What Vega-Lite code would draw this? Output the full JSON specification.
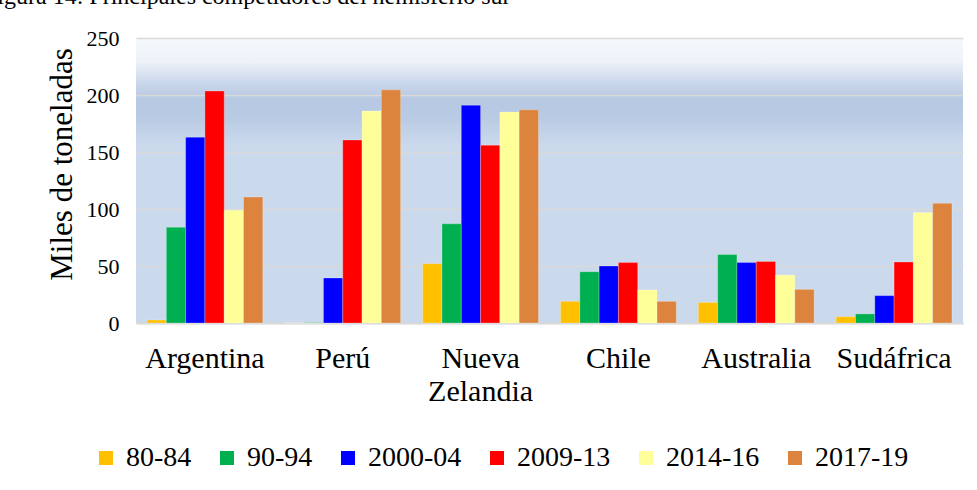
{
  "$schema": "https://vega.github.io/schema/vega-lite/v6.json",
  "autosize": "none",
  "width": 827,
  "height": 285,
  "padding": {"left": 136, "top": 38, "right": 14, "bottom": 167},
  "background": "white",
  "title": {
    "text": "Figura 14: Principales competidores del hemisferio sur",
    "anchor": "start",
    "frame": "group",
    "dx": -152,
    "offset": -1,
    "baseline": "alphabetic",
    "font": "Liberation Serif",
    "fontSize": 24,
    "fontWeight": "normal",
    "color": "#000000"
  },
  "data": {
    "values": [
      {"pais": "Argentina", "periodo": "80-84", "valor": 2.6},
      {"pais": "Argentina", "periodo": "90-94", "valor": 84},
      {"pais": "Argentina", "periodo": "2000-04", "valor": 163},
      {"pais": "Argentina", "periodo": "2009-13", "valor": 203.5},
      {"pais": "Argentina", "periodo": "2014-16", "valor": 99},
      {"pais": "Argentina", "periodo": "2017-19", "valor": 110.5},
      {"pais": "Perú", "periodo": "80-84", "valor": 0},
      {"pais": "Perú", "periodo": "90-94", "valor": 0.3},
      {"pais": "Perú", "periodo": "2000-04", "valor": 39.5},
      {"pais": "Perú", "periodo": "2009-13", "valor": 160.5},
      {"pais": "Perú", "periodo": "2014-16", "valor": 186},
      {"pais": "Perú", "periodo": "2017-19", "valor": 204.5},
      {"pais": "Nueva Zelandia", "periodo": "80-84", "valor": 52},
      {"pais": "Nueva Zelandia", "periodo": "90-94", "valor": 87},
      {"pais": "Nueva Zelandia", "periodo": "2000-04", "valor": 191},
      {"pais": "Nueva Zelandia", "periodo": "2009-13", "valor": 156},
      {"pais": "Nueva Zelandia", "periodo": "2014-16", "valor": 185},
      {"pais": "Nueva Zelandia", "periodo": "2017-19", "valor": 187},
      {"pais": "Chile", "periodo": "80-84", "valor": 19},
      {"pais": "Chile", "periodo": "90-94", "valor": 45},
      {"pais": "Chile", "periodo": "2000-04", "valor": 50},
      {"pais": "Chile", "periodo": "2009-13", "valor": 53},
      {"pais": "Chile", "periodo": "2014-16", "valor": 29},
      {"pais": "Chile", "periodo": "2017-19", "valor": 19},
      {"pais": "Australia", "periodo": "80-84", "valor": 18},
      {"pais": "Australia", "periodo": "90-94", "valor": 60},
      {"pais": "Australia", "periodo": "2000-04", "valor": 53},
      {"pais": "Australia", "periodo": "2009-13", "valor": 54},
      {"pais": "Australia", "periodo": "2014-16", "valor": 42},
      {"pais": "Australia", "periodo": "2017-19", "valor": 29.5},
      {"pais": "Sudáfrica", "periodo": "80-84", "valor": 5.5},
      {"pais": "Sudáfrica", "periodo": "90-94", "valor": 8},
      {"pais": "Sudáfrica", "periodo": "2000-04", "valor": 24},
      {"pais": "Sudáfrica", "periodo": "2009-13", "valor": 53.5},
      {"pais": "Sudáfrica", "periodo": "2014-16", "valor": 97},
      {"pais": "Sudáfrica", "periodo": "2017-19", "valor": 105}
    ]
  },
  "mark": {"type": "bar", "stroke": "#ffffff", "strokeOpacity": 0.25, "strokeWidth": 1},
  "encoding": {
    "x": {
      "field": "pais",
      "type": "nominal",
      "sort": ["Argentina", "Perú", "Nueva Zelandia", "Chile", "Australia", "Sudáfrica"],
      "scale": {"paddingInner": 0.16, "paddingOuter": 0.08},
      "axis": {
        "title": null,
        "labelAngle": 0,
        "labelExpr": "datum.value == 'Nueva Zelandia' ? ['Nueva', 'Zelandia'] : datum.value",
        "labelFont": "Liberation Serif",
        "labelFontSize": 30,
        "labelColor": "#000000",
        "labelPadding": 20,
        "labelLineHeight": 33,
        "labelBaseline": "top",
        "labelLimit": 300,
        "ticks": false,
        "domainColor": "#d9d9d9",
        "domainWidth": 2
      }
    },
    "xOffset": {
      "field": "periodo",
      "type": "nominal",
      "sort": ["80-84", "90-94", "2000-04", "2009-13", "2014-16", "2017-19"],
      "scale": {"paddingInner": 0, "paddingOuter": 0}
    },
    "y": {
      "field": "valor",
      "type": "quantitative",
      "scale": {"domain": [0, 250]},
      "axis": {
        "title": "Miles de toneladas",
        "titleFont": "Liberation Serif",
        "titleFontSize": 31,
        "titleFontWeight": "normal",
        "titleColor": "#000000",
        "titlePadding": 8,
        "titleY": 126,
        "values": [0, 50, 100, 150, 200, 250],
        "labelFont": "Liberation Serif",
        "labelFontSize": 22,
        "labelColor": "#000000",
        "labelPadding": 17,
        "ticks": false,
        "domain": false,
        "grid": true,
        "gridColor": "#d9d9d9",
        "gridWidth": 1.5
      }
    },
    "color": {
      "field": "periodo",
      "type": "nominal",
      "sort": ["80-84", "90-94", "2000-04", "2009-13", "2014-16", "2017-19"],
      "scale": {
        "domain": ["80-84", "90-94", "2000-04", "2009-13", "2014-16", "2017-19"],
        "range": ["#ffc000", "#00b050", "#0000ff", "#ff0000", "#ffff99", "#dc843e"]
      },
      "legend": {
        "title": null,
        "orient": "none",
        "direction": "horizontal",
        "legendX": -44,
        "legendY": 406,
        "symbolType": "square",
        "symbolSize": 196,
        "symbolStrokeWidth": 0,
        "labelFont": "Liberation Serif",
        "labelFontSize": 28,
        "labelColor": "#000000",
        "labelOffset": 6,
        "columnPadding": 21,
        "labelLimit": 200
      }
    }
  },
  "config": {
    "font": "Liberation Serif",
    "view": {
      "stroke": null,
      "fill": {
        "gradient": "linear",
        "x1": 0, "y1": 0, "x2": 0, "y2": 1,
        "stops": [
          {"offset": 0, "color": "#f5f8fc"},
          {"offset": 0.08, "color": "#eff3f9"},
          {"offset": 0.16, "color": "#c9d6ea"},
          {"offset": 0.22, "color": "#b6c8e2"},
          {"offset": 0.28, "color": "#b9cbe4"},
          {"offset": 0.38, "color": "#cbd9ec"},
          {"offset": 1, "color": "#cbd9ec"}
        ]
      }
    }
  }
}
